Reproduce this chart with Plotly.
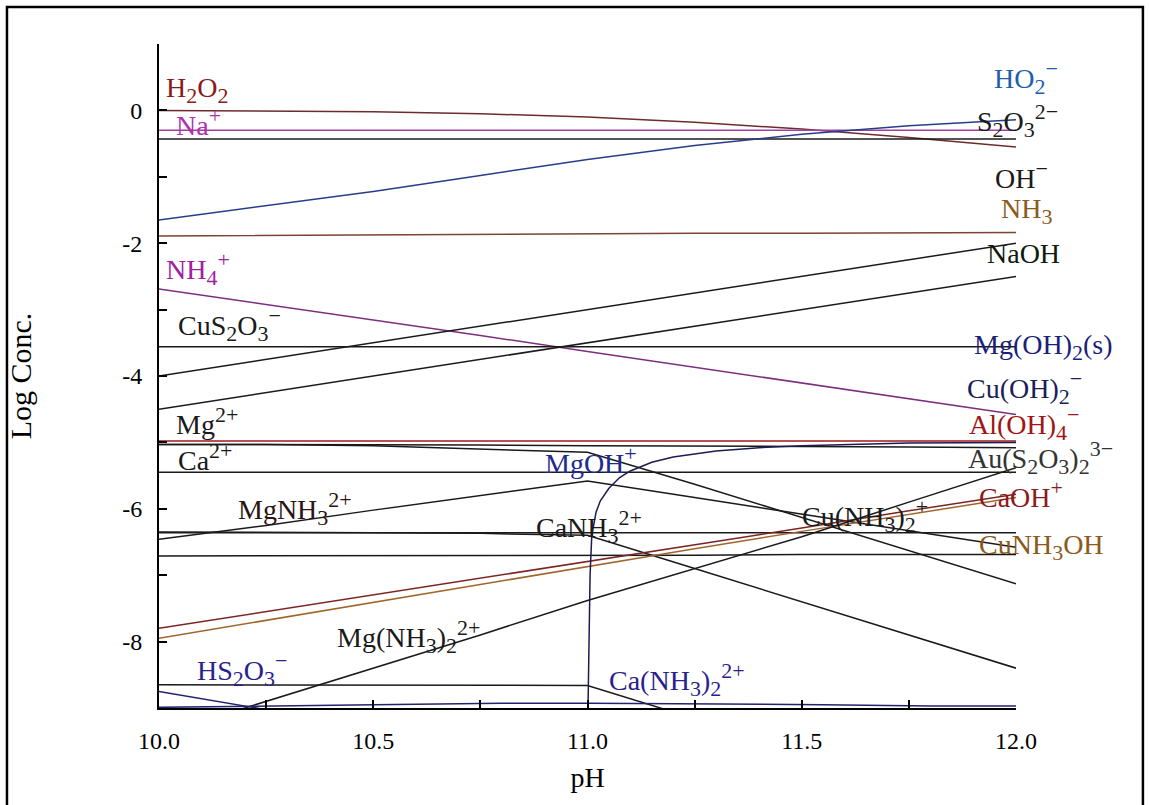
import plotly.graph_objects as go

# pH grid shared by most species
PH = [10.0, 10.25, 10.5, 10.75, 11.0, 11.25, 11.5, 11.75, 12.0]

# log concentrations of each species on the pH grid
h2o2 = [0.0, -0.005, -0.02, -0.05, -0.10, -0.18, -0.28, -0.41, -0.55]
na = [-0.30, -0.30, -0.30, -0.30, -0.30, -0.30, -0.30, -0.30, -0.30]
s2o3 = [-0.43, -0.43, -0.43, -0.43, -0.43, -0.43, -0.43, -0.43, -0.43]
ho2 = [-1.65, -1.44, -1.22, -0.98, -0.74, -0.53, -0.36, -0.23, -0.14]
nh3 = [-1.89, -1.88, -1.87, -1.87, -1.86, -1.85, -1.85, -1.84, -1.84]
nh4 = [-2.69, -2.92, -3.15, -3.39, -3.63, -3.87, -4.10, -4.34, -4.58]
oh = [-4.00, -3.75, -3.50, -3.25, -3.00, -2.75, -2.50, -2.25, -2.00]
naoh = [-4.50, -4.25, -4.00, -3.75, -3.50, -3.25, -3.00, -2.75, -2.50]
cus2o3 = [-3.56, -3.56, -3.56, -3.56, -3.56, -3.56, -3.56, -3.56, -3.56]
aloh4 = [-4.98, -4.98, -4.98, -4.98, -4.98, -4.98, -4.98, -4.98, -4.98]
ca = [-5.03, -5.03, -5.04, -5.04, -5.05, -5.05, -5.06, -5.07, -5.08]
mg = [-5.03, -5.03, -5.05, -5.10, -5.15, -5.63, -6.13, -6.63, -7.13]
au = [-5.45, -5.45, -5.45, -5.45, -5.45, -5.45, -5.45, -5.45, -5.45]
mgoh = [-6.46, -6.25, -6.02, -5.80, -5.58, -5.83, -6.08, -6.33, -6.58]
mgnh3 = [-6.35, -6.35, -6.36, -6.37, -6.40, -6.90, -7.40, -7.90, -8.40]
cunh32 = [-6.36, -6.36, -6.36, -6.36, -6.36, -6.36, -6.36, -6.36, -6.36]
canh3 = [-6.71, -6.71, -6.70, -6.70, -6.70, -6.70, -6.69, -6.69, -6.69]
caoh = [-7.80, -7.55, -7.30, -7.05, -6.79, -6.54, -6.29, -6.03, -5.78]
cunh3oh = [-7.95, -7.68, -7.41, -7.14, -6.86, -6.60, -6.34, -6.08, -5.83]
cuoh2 = [-9.40, -8.90, -8.40, -7.90, -7.38, -6.90, -6.42, -5.90, -5.38]
mgnh32 = [-8.65, -8.65, -8.65, -8.65, -8.66, -9.16, -9.66, -10.16, -10.66]
hs2o3 = [-8.75, -9.02, -9.30, -9.55, -9.80, -10.05, -10.30, -10.55, -10.80]

# Mg(OH)2 solid appears at pH 11
mgohs_ph = [11.0, 11.003, 11.006, 11.01, 11.02, 11.03, 11.05, 11.075, 11.1,
            11.15, 11.2, 11.3, 11.4, 11.5, 11.75, 12.0]
mgohs = [-9.5, -7.8, -7.0, -6.4, -6.05, -5.88, -5.69, -5.53, -5.43,
         -5.30, -5.22, -5.13, -5.08, -5.05, -5.01, -5.00]

# trace species hugging the lower limit
cas2o3_ph = [10.0, 10.2, 10.5, 10.8, 11.0, 11.55, 11.8, 12.0]
cas2o3 = [-8.99, -8.97, -8.95, -8.93, -8.93, -8.95, -8.97, -8.97]

BLACK = "#1a1a1a"
series = [
    (PH, h2o2, "#6e2b2b"),
    (PH, na, "#a040a0"),
    (PH, s2o3, BLACK),
    (PH, ho2, "#283c8c"),
    (PH, nh3, "#7a4535"),
    (PH, nh4, "#7e2e7e"),
    (PH, oh, BLACK),
    (PH, naoh, BLACK),
    (PH, cus2o3, BLACK),
    (PH, ca, BLACK),
    (PH, mg, BLACK),
    (PH, aloh4, "#a01818"),
    (PH, au, BLACK),
    (PH, mgoh, BLACK),
    (PH, mgnh3, BLACK),
    (PH, cunh32, BLACK),
    (PH, canh3, BLACK),
    (PH, caoh, "#7b2525"),
    (PH, cunh3oh, "#a0652a"),
    (PH, cuoh2, BLACK),
    (PH, mgnh32, BLACK),
    (PH, hs2o3, "#22226e"),
    (mgohs_ph, mgohs, "#1c1c50"),
    (cas2o3_ph, cas2o3, "#22226e"),
]

fig = go.Figure()
for xs, ys, col in series:
    fig.add_trace(go.Scatter(x=xs, y=ys, mode="lines",
                             line=dict(color=col, width=1.5),
                             showlegend=False, hoverinfo="skip"))


def sb(t):
    return "<sub><span style='font-size:22px'>%s</span></sub>" % t


def sp(t):
    return "<sup><span style='font-size:22px'>%s</span></sup>" % t


# species labels: (text, pH, log conc, colour)
labels = [
    ("H" + sb("2") + "O" + sb("2"), 10.012, 0.30, "#8b1a1a"),
    ("Na" + sp("+"), 10.035, -0.17, "#b030b0"),
    ("NH" + sb("4") + sp("+"), 10.012, -2.38, "#a020a0"),
    ("CuS" + sb("2") + "O" + sb("3") + sp("−"), 10.04, -3.22, BLACK),
    ("Mg" + sp("2+"), 10.035, -4.68, BLACK),
    ("Ca" + sp("2+"), 10.04, -5.22, BLACK),
    ("MgNH" + sb("3") + sp("2+"), 10.18, -6.0, "#2a1414"),
    ("MgOH" + sp("+"), 10.895, -5.27, "#1e2a8c"),
    ("CaNH" + sb("3") + sp("2+"), 10.875, -6.27, BLACK),
    ("Mg(NH" + sb("3") + ")" + sb("2") + sp("2+"), 10.41, -7.93, BLACK),
    ("HS" + sb("2") + "O" + sb("3") + sp("−"), 10.085, -8.42, "#2a1f8c"),
    ("Ca(NH" + sb("3") + ")" + sb("2") + sp("2+"), 11.045, -8.57, "#2a1f8c"),
    ("Cu(NH" + sb("3") + ")" + sb("2") + sp("+"), 11.495, -6.1, BLACK),
    ("HO" + sb("2") + sp("−"), 11.945, 0.50, "#1f5fb0"),
    ("S" + sb("2") + "O" + sb("3") + sp("2−"), 11.905, -0.15, BLACK),
    ("OH" + sp("−"), 11.947, -0.97, BLACK),
    ("NH" + sb("3"), 11.96, -1.52, "#8b5a20"),
    ("NaOH", 11.927, -2.16, "#0f1a0f"),
    ("Mg(OH)" + sb("2") + "(s)", 11.898, -3.56, "#1a1f7a"),
    ("Cu(OH)" + sb("2") + sp("−"), 11.88, -4.17, "#1a1f5a"),
    ("Al(OH)" + sb("4") + sp("−"), 11.885, -4.72, "#a01515"),
    ("Au(S" + sb("2") + "O" + sb("3") + ")" + sb("2") + sp("3−"), 11.883, -5.23, "#333333"),
    ("CaOH" + sp("+"), 11.91, -5.77, "#8b1a1a"),
    ("CuNH" + sb("3") + "OH", 11.91, -6.58, "#8b5a1a"),
]
for text, x, y, col in labels:
    fig.add_annotation(x=x, y=y, xref="x", yref="y", text=text,
                       showarrow=False, xanchor="left", yanchor="middle",
                       font=dict(family="Liberation Serif", size=28, color=col))

# outer frame around the whole figure
fig.add_shape(type="rect", xref="paper", yref="paper",
              x0=-0.1774, x1=1.1481, y0=-0.16, y1=1.0557,
              line=dict(color="black", width=2.5), fillcolor="rgba(0,0,0,0)")

fig.update_layout(
    width=1149, height=805,
    margin=dict(l=159, r=133, t=44, b=97),
    paper_bgcolor="white", plot_bgcolor="white",
    font=dict(family="Liberation Serif", size=24, color="black"),
    showlegend=False,
)
fig.update_xaxes(
    range=[10, 12], showgrid=False, zeroline=False,
    showline=True, linecolor="black", linewidth=2,
    ticks="inside", ticklen=8, tickwidth=1.5, tickcolor="black",
    tickvals=[10.0, 10.5, 11.0, 11.5, 12.0],
    ticktext=["10.0", "10.5", "11.0", "11.5", "12.0"],
    tickfont=dict(size=24),
    ticklabelstandoff=10,
    minor=dict(tickvals=[10.25, 10.75, 11.25, 11.75], ticks="inside",
               ticklen=8, tickwidth=1.5, tickcolor="black"),
    title=dict(text="pH", standoff=15, font=dict(size=28)),
)
fig.update_yaxes(
    range=[-9, 1], showgrid=False, zeroline=False,
    showline=True, linecolor="black", linewidth=2,
    ticks="inside", ticklen=8, tickwidth=1.5, tickcolor="black",
    tickvals=[0, -2, -4, -6, -8],
    ticktext=["0", "-2", "-4", "-6", "-8"],
    tickfont=dict(size=24),
    ticklabelstandoff=10,
    minor=dict(tickvals=[1, -1, -3, -5, -7], ticks="inside",
               ticklen=8, tickwidth=1.5, tickcolor="black"),
    title=dict(text="Log Conc.", standoff=82, font=dict(size=30)),
)

fig.write_html("out.html")
